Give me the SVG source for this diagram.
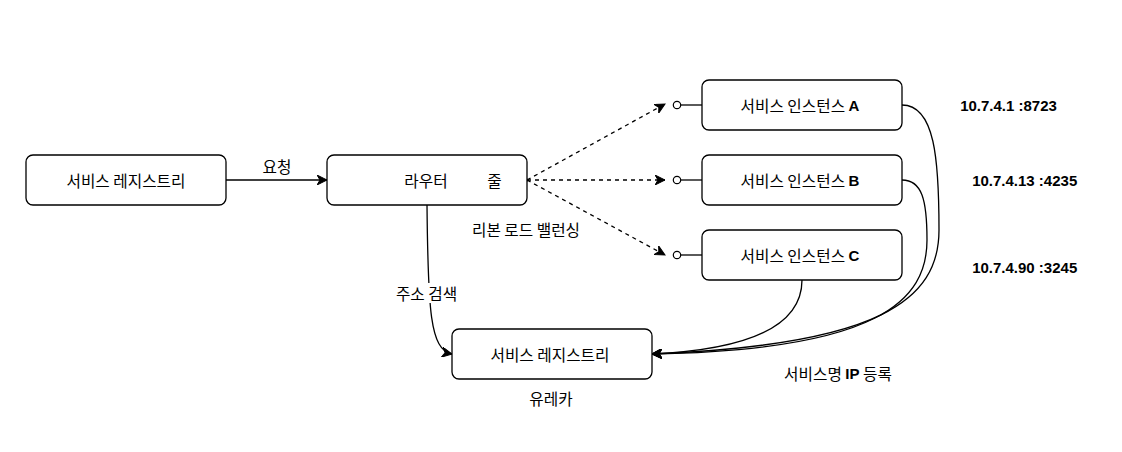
<svg xmlns="http://www.w3.org/2000/svg" width="1122" height="452" viewBox="0 0 1122 452">
<style>
.box{fill:#fff;stroke:#000;stroke-width:1.3}
.t{font-family:"Noto Sans CJK KR","Liberation Sans",sans-serif;font-size:15.7px;fill:#000;text-anchor:middle;dominant-baseline:central}
.b{font-family:"Liberation Sans","Noto Sans CJK KR",sans-serif;font-weight:bold;font-size:15px}
.ip{font-family:"Liberation Sans",sans-serif;font-size:15px;font-weight:bold;fill:#000;text-anchor:middle;dominant-baseline:central}
.e{fill:none;stroke:#000;stroke-width:1.3}
.d{fill:none;stroke:#000;stroke-width:1.3;stroke-dasharray:4 4}
</style>
<defs>
<marker id="arr" markerUnits="userSpaceOnUse" markerWidth="12" markerHeight="10" refX="10" refY="5" orient="auto" viewBox="0 0 12 10">
<path d="M0,0 L10,5 L0,10 L3,5 Z" fill="#000" stroke="#000" stroke-width="1"/>
</marker>
</defs>
<rect width="1122" height="452" fill="#fff"/>
<g id="connectors">
<path class="e" d="M226,180 L327,180" marker-end="url(#arr)"/>
<path class="d" d="M527,180 L665,104" marker-end="url(#arr)"/>
<path class="d" d="M527,180 L665,180" marker-end="url(#arr)"/>
<path class="d" d="M527,180 L665,255" marker-end="url(#arr)"/>
<circle cx="527" cy="180" r="1.6" fill="#000"/>
<path class="e" d="M427,205 C428,310 430,350 452,354" marker-end="url(#arr)"/>
<path class="e" d="M902,105 C935,105 939,160 939,230 C939,300 880,345 652,354" marker-end="url(#arr)"/>
<path class="e" d="M902,180 C922,180 927,200 927,240 C927,300 880,350 652,354" marker-end="url(#arr)"/>
<path class="e" d="M802,280 C802,330 740,350 652,354" marker-end="url(#arr)"/>
<text class="t" x="277" y="166">요청</text>
<text class="t" x="526" y="229">리본 로드 밸런싱</text>
<rect x="393" y="283" width="67" height="20" fill="#fff"/>
<text class="t" x="426.5" y="293">주소 검색</text>
<text class="t" x="838" y="373">서비스명 <tspan class="b">IP</tspan> 등록</text>
</g>
<g id="client">
<rect class="box" x="26" y="155" width="200" height="50" rx="7"/>
<text class="t" x="126" y="180">서비스 레지스트리</text>
</g>
<g id="router">
<rect class="box" x="327" y="155" width="200" height="50" rx="7"/>
<text class="t" y="180"><tspan x="426">라우터</tspan><tspan x="494.5">줄</tspan></text>
</g>
<g id="instanceA">
<circle cx="677" cy="105" r="3.7" fill="#fff" stroke="#000" stroke-width="1.2"/>
<path class="e" d="M681,105 L702,105"/>
<rect class="box" x="702" y="80" width="200" height="50" rx="7"/>
<text class="t" x="800" y="105">서비스 인스턴스 <tspan class="b">A</tspan></text>
</g>
<g id="instanceB">
<circle cx="677" cy="180" r="3.7" fill="#fff" stroke="#000" stroke-width="1.2"/>
<path class="e" d="M681,180 L702,180"/>
<rect class="box" x="702" y="155" width="200" height="50" rx="7"/>
<text class="t" x="800" y="180">서비스 인스턴스 <tspan class="b">B</tspan></text>
</g>
<g id="instanceC">
<circle cx="677" cy="255" r="3.7" fill="#fff" stroke="#000" stroke-width="1.2"/>
<path class="e" d="M681,255 L702,255"/>
<rect class="box" x="702" y="230" width="200" height="50" rx="7"/>
<text class="t" x="800" y="255">서비스 인스턴스 <tspan class="b">C</tspan></text>
</g>
<g id="registry">
<rect class="box" x="452" y="329" width="200" height="50" rx="7"/>
<text class="t" x="550" y="354">서비스 레지스트리</text>
<text class="t" x="551" y="398">유레카</text>
</g>
<g id="ips">
<text class="ip" x="1008.5" y="105">10.7.4.1 :8723</text>
<text class="ip" x="1024.7" y="180">10.7.4.13 :4235</text>
<text class="ip" x="1024.7" y="267">10.7.4.90 :3245</text>
</g>
</svg>
